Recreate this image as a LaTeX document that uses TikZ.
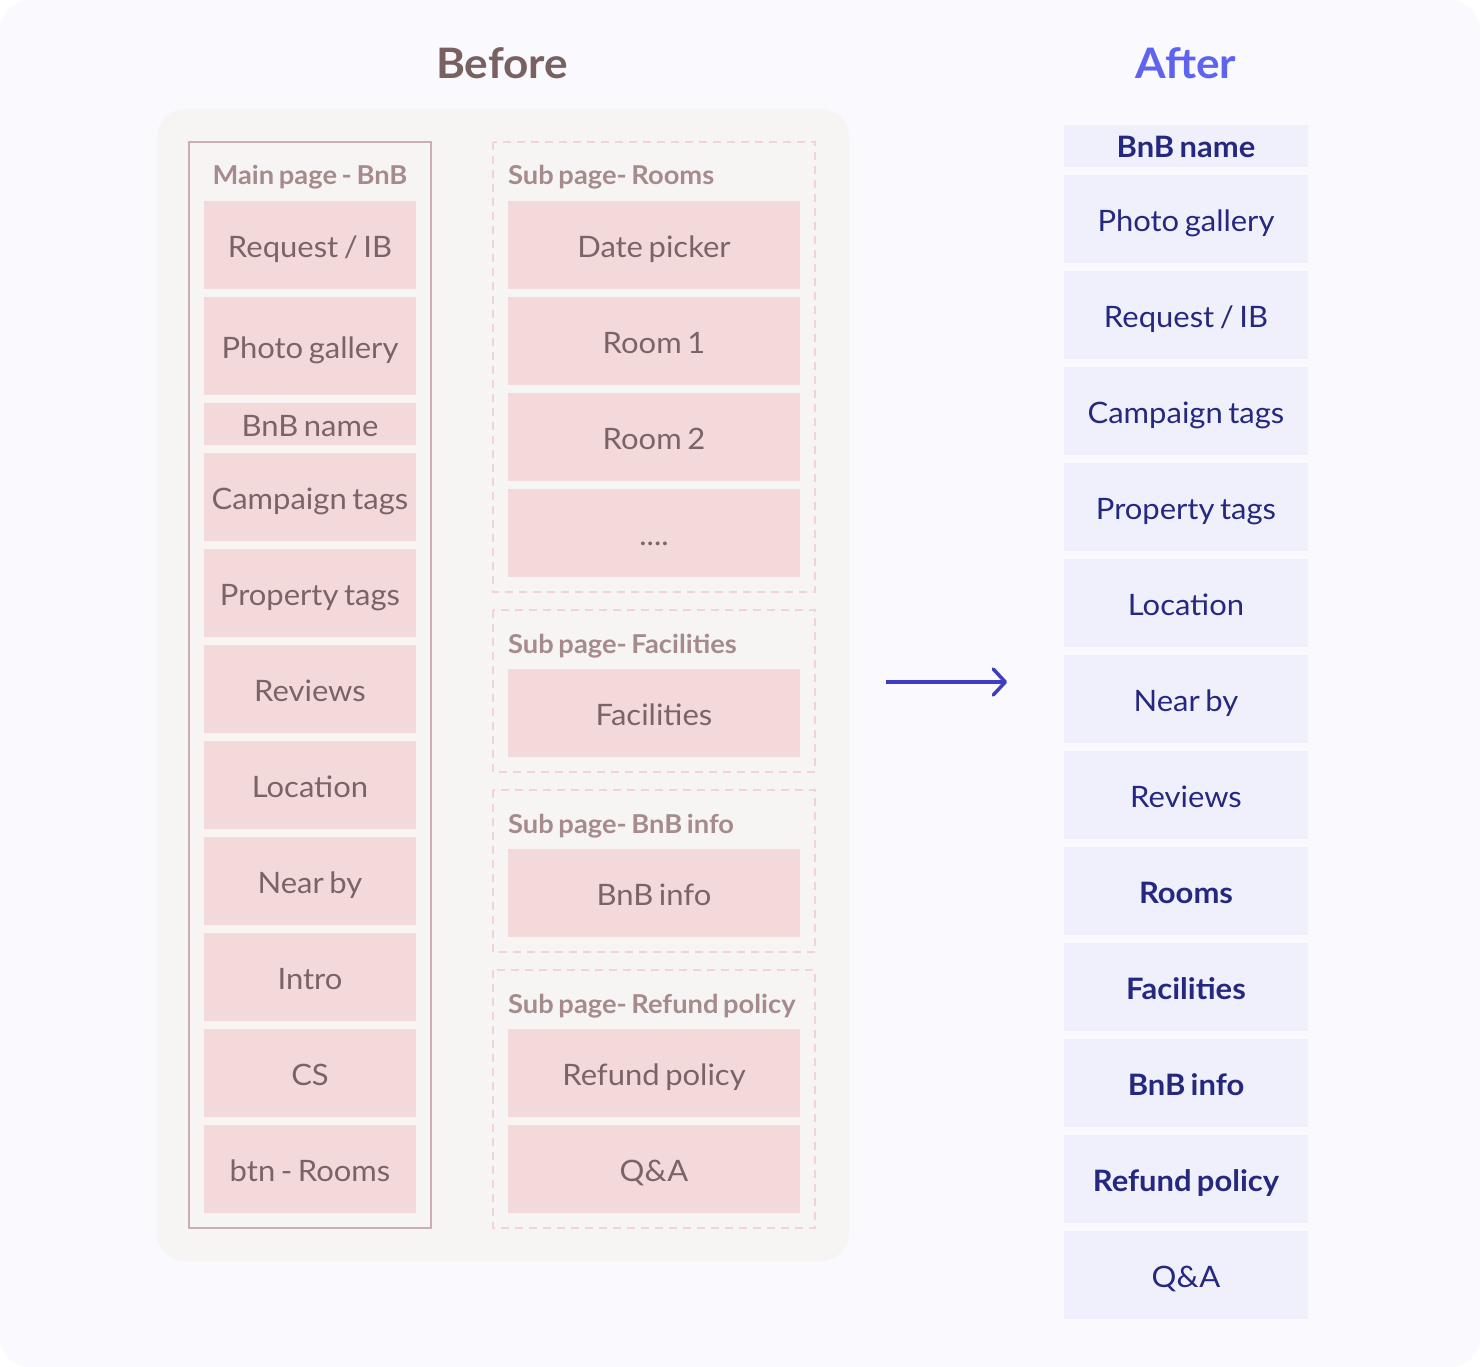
\documentclass[tikz,border=0pt]{standalone}
\usepackage{fontspec}
\setmainfont{Lato}[FakeStretch=1.05, WordSpace=0.7]
\usetikzlibrary{arrows.meta}
\definecolor{pagebg}{HTML}{F9F9FE}
\definecolor{panelbg}{HTML}{F7F5F4}
\definecolor{mainborder}{HTML}{CDAFB2}
\definecolor{dashborder}{HTML}{F2D3D6}
\definecolor{bfill}{HTML}{F4D9DB}
\definecolor{btext}{HTML}{7B6466}
\definecolor{ttext}{HTML}{A68A8C}
\definecolor{beforecol}{HTML}{7A6161}
\definecolor{aftercol}{HTML}{5E63F0}
\definecolor{afill}{HTML}{F0F0FD}
\definecolor{atext}{HTML}{25287F}
\definecolor{arrowcol}{HTML}{3E3EBE}
\begin{document}
\begin{tikzpicture}[x=1pt,y=-1pt,
  itembase/.style={inner sep=0pt, text height=24pt, text depth=0pt, font=\fontsize{29.5}{29.5}\selectfont},
  bitem/.style={itembase, fill=bfill, text=btext, minimum width=212pt, minimum height=88pt},
  sitem/.style={itembase, fill=bfill, text=btext, minimum width=292pt, minimum height=88pt},
  aitem/.style={itembase, fill=afill, text=atext, minimum width=244pt, minimum height=88pt},
  boxtitle/.style={inner sep=0pt, text=ttext, font=\fontsize{26}{26}\selectfont\bfseries},
  bigtitle/.style={inner sep=0pt, font=\fontsize{42}{42}\selectfont\bfseries},
  subbox/.style={draw=dashborder, line width=1.5pt, dash pattern=on 8pt off 6pt},
  abold/.style={font=\fontsize{29.5}{29.5}\selectfont\bfseries}
]
\useasboundingbox (0,0) rectangle (1480,1367);
\fill[white] (0,0) rectangle (1480,1367);
\fill[pagebg, rounded corners=30pt] (0,0) rectangle (1480,1367);
\fill[panelbg, rounded corners=28pt] (157,109) rectangle (849,1261);

% titles
\node[bigtitle, text=beforecol, anchor=base] (tBefore) at (502,79) {Before};
\node[bigtitle, text=aftercol, anchor=base] (tAfter) at (1186,79) {After};

% main page box
\draw[mainborder, line width=2pt] (189,142) rectangle (431,1228);
\node[boxtitle, anchor=base] (mainT) at (310,185) {Main page - BnB};
\node[bitem] (m1) at (310,245) {Request / IB};
\node[bitem, minimum height=98pt] (m2) at (310,346) {Photo gallery};
\node[bitem, minimum height=42pt] (m3) at (310,424) {BnB name};
\node[bitem] (m4) at (310,497) {Campaign tags};
\node[bitem] (m5) at (310,593) {Property tags};
\node[bitem] (m6) at (310,689) {Reviews};
\node[bitem] (m7) at (310,785) {Location};
\node[bitem] (m8) at (310,881) {Near by};
\node[bitem] (m9) at (310,977) {Intro};
\node[bitem] (m10) at (310,1073) {CS};
\node[bitem] (m11) at (310,1169) {btn - Rooms};

% sub page boxes
\draw[subbox] (493,142) rectangle (815,592);
\node[boxtitle, anchor=base west] (sRT) at (508,185) {Sub page- Rooms};
\node[sitem] (s1) at (654,245) {Date picker};
\node[sitem] (s2) at (654,341) {Room 1};
\node[sitem] (s3) at (654,437) {Room 2};
\node[sitem] (s4) at (654,533) {....};

\draw[subbox] (493,610) rectangle (815,772);
\node[boxtitle, anchor=base west] (sFT) at (508,653) {Sub page- Facilities};
\node[sitem] (s5) at (654,713) {Facilities};

\draw[subbox] (493,790) rectangle (815,952);
\node[boxtitle, anchor=base west] (sBT) at (508,833) {Sub page- BnB info};
\node[sitem] (s6) at (654,893) {BnB info};

\draw[subbox] (493,970) rectangle (815,1228);
\node[boxtitle, anchor=base west] (sPT) at (508,1013) {Sub page- Refund policy};
\node[sitem] (s7) at (654,1073) {Refund policy};
\node[sitem] (s8) at (654,1169) {Q\&A};

% arrow
\coordinate (arrS) at (886,682);
\coordinate (arrE) at (1007,682);
\draw[arrowcol, line width=3.5pt, -{Straight Barb[length=12pt,width=26pt,line cap=round,line join=round]}] (arrS) -- (arrE);

% after column
\node[aitem, abold, minimum height=42pt] (a1) at (1186,146) {BnB name};
\node[aitem] (a2) at (1186,219) {Photo gallery};
\node[aitem] (a3) at (1186,315) {Request / IB};
\node[aitem] (a4) at (1186,411) {Campaign tags};
\node[aitem] (a5) at (1186,507) {Property tags};
\node[aitem] (a6) at (1186,603) {Location};
\node[aitem] (a7) at (1186,699) {Near by};
\node[aitem] (a8) at (1186,795) {Reviews};
\node[aitem, abold] (a9) at (1186,891) {Rooms};
\node[aitem, abold] (a10) at (1186,987) {Facilities};
\node[aitem, abold] (a11) at (1186,1083) {BnB info};
\node[aitem, abold] (a12) at (1186,1179) {Refund policy};
\node[aitem] (a13) at (1186,1275) {Q\&A};
\end{tikzpicture}
\end{document}
